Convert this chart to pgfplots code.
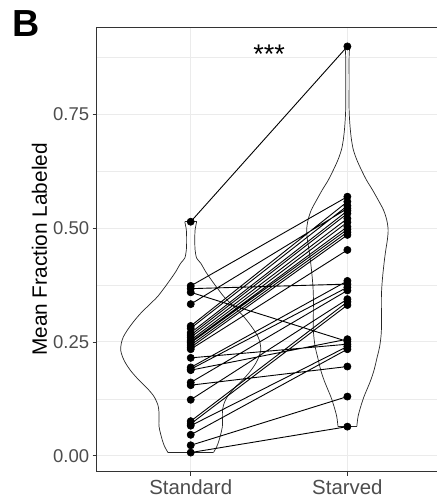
\documentclass[border=0pt]{standalone}
\usepackage{pgfplots}
\pgfplotsset{compat=1.18}
\usepackage{pgfplotstable}
\usepackage{fontspec}
\setmainfont{Liberation Sans}
\definecolor{gridc}{HTML}{EBEBEB}
\definecolor{tickc}{HTML}{4D4D4D}
\definecolor{borderc}{HTML}{333333}

\pgfplotstableread{
y w
0.514 0.038
0.496 0.028
0.474 0.026
0.452 0.028
0.434 0.038
0.423 0.064
0.404 0.096
0.386 0.132
0.368 0.170
0.349 0.213
0.331 0.266
0.313 0.319
0.294 0.366
0.276 0.404
0.261 0.430
0.247 0.443
0.232 0.447
0.218 0.436
0.203 0.415
0.185 0.379
0.166 0.330
0.148 0.277
0.130 0.234
0.111 0.209
0.093 0.202
0.064 0.202
0.034 0.181
0.020 0.166
0.007 0.145
}\vstd

\pgfplotstableread{
y w
0.899 0.015
0.877 0.011
0.818 0.011
0.760 0.011
0.723 0.017
0.694 0.026
0.672 0.038
0.650 0.060
0.628 0.089
0.606 0.121
0.584 0.160
0.562 0.196
0.540 0.230
0.518 0.251
0.496 0.260
0.474 0.255
0.452 0.245
0.423 0.234
0.386 0.223
0.349 0.217
0.276 0.217
0.240 0.206
0.218 0.191
0.188 0.170
0.166 0.149
0.144 0.123
0.130 0.106
0.108 0.085
0.086 0.068
0.064 0.060
}\vstv

\pgfplotstableread{
x y
1 0.514
2 0.899
nan nan
1 0.373
2 0.569
nan nan
1 0.367
2 0.377
nan nan
1 0.359
2 0.251
nan nan
1 0.333
2 0.543
nan nan
1 0.285
2 0.558
nan nan
1 0.280
2 0.549
nan nan
1 0.270
2 0.538
nan nan
1 0.265
2 0.532
nan nan
1 0.260
2 0.521
nan nan
1 0.254
2 0.513
nan nan
1 0.250
2 0.503
nan nan
1 0.248
2 0.497
nan nan
1 0.243
2 0.491
nan nan
1 0.238
2 0.485
nan nan
1 0.234
2 0.452
nan nan
1 0.215
2 0.245
nan nan
1 0.194
2 0.384
nan nan
1 0.190
2 0.370
nan nan
1 0.188
2 0.256
nan nan
1 0.161
2 0.363
nan nan
1 0.155
2 0.196
nan nan
1 0.123
2 0.344
nan nan
1 0.076
2 0.338
nan nan
1 0.070
2 0.331
nan nan
1 0.066
2 0.240
nan nan
1 0.046
2 0.234
nan nan
1 0.023
2 0.130
nan nan
1 0.007
2 0.064
}\pairs

\begin{document}
\begin{tikzpicture}
\begin{axis}[
  scale only axis, width=344.7pt, height=444.4pt,
  xmin=0.4, xmax=2.6, ymin=-0.035, ymax=0.941,
  xtick={1,2}, xticklabels={Standard,Starved},
  ytick={0,0.25,0.5,0.75}, yticklabels={0.00,0.25,0.50,0.75},
  minor ytick={0.125,0.375,0.625,0.875},
  grid=both,
  major grid style={gridc, line width=1.1pt},
  minor grid style={gridc, line width=0.55pt},
  tick align=outside, major tick length=4pt, minor tick length=0pt,
  xtick pos=left, ytick pos=left,
  tick style={borderc, line width=0.8pt},
  axis line style={borderc, line width=0.8pt},
  xticklabel style={font=\fontsize{20.4}{24}\selectfont, text=tickc},
  yticklabel style={font=\fontsize{18.5}{22}\selectfont, text=tickc},
  ylabel={Mean Fraction Labeled},
  ylabel style={font=\fontsize{20.8}{25}\selectfont, at={(axis description cs:-0.166,0.5)}, anchor=center},
  violin/.style={black!85, line width=0.7pt, smooth, tension=0.5, no marks},
]
\addplot[violin] table[x expr=1-\thisrow{w}, y=y] {\vstd};
\addplot[violin] table[x expr=1+\thisrow{w}, y=y] {\vstd};
\addplot[violin, sharp plot] coordinates {(0.962,0.514) (1.038,0.514)};
\addplot[violin, sharp plot] coordinates {(0.855,0.007) (1.145,0.007)};
\addplot[violin] table[x expr=2-\thisrow{w}, y=y] {\vstv};
\addplot[violin] table[x expr=2+\thisrow{w}, y=y] {\vstv};
\addplot[violin, sharp plot] coordinates {(1.985,0.899) (2.015,0.899)};
\addplot[violin, sharp plot] coordinates {(1.940,0.064) (2.060,0.064)};
\addplot[black, line width=0.9pt, no marks, unbounded coords=jump] table[x=x, y=y] {\pairs};
\addplot[only marks, mark=*, mark size=3.6pt, mark options={fill=black, draw=black, line width=0.6pt}, unbounded coords=discard] table[x=x, y=y] {\pairs};
\node[anchor=north, inner sep=0pt, font=\fontsize{27}{30}\selectfont] at (axis cs:1.5,0.902) {***};
\end{axis}
\node[anchor=base west, inner sep=0pt, font=\fontsize{37.7}{40}\selectfont\bfseries] at (-84.5pt,434.7pt) {B};
\pgfresetboundingbox
\path (-96.7pt,-30.3pt) rectangle (339.3pt,471.7pt);
\end{tikzpicture}
\end{document}
